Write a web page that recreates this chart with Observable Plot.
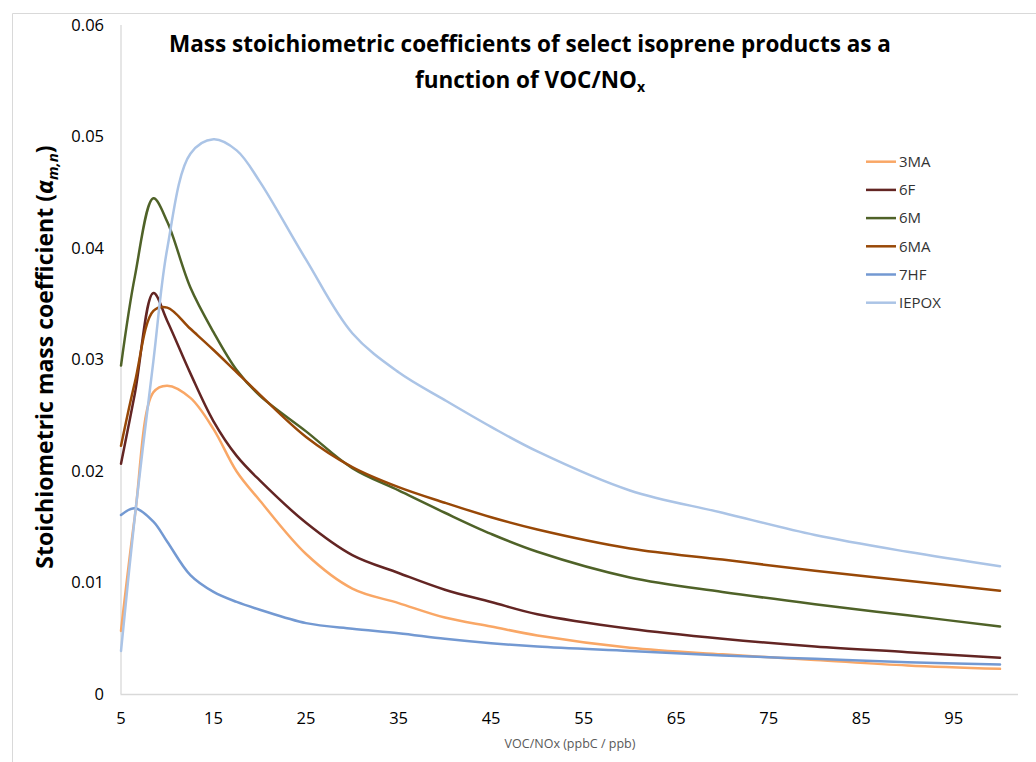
<!DOCTYPE html>
<html><head><meta charset="utf-8">
<script src="https://cdn.jsdelivr.net/npm/d3@7"></script>
<script src="https://cdn.jsdelivr.net/npm/@observablehq/plot@0.6"></script>
<style>
body{margin:0;background:#fff;}
#chart{position:relative;width:1036px;height:762px;}
</style>
</head><body><div id="chart"></div>
<script>
// ---- data ----
const seriesNames = ["3MA", "6F", "6M", "6MA", "7HF", "IEPOX"];
const seriesColors = ["#F9A766", "#632523", "#4F6228", "#984807", "#7399D2", "#ABC4E6"];
const xValues = [5, 6.5, 8.5, 10, 12.5, 15, 17.5, 20, 25, 30, 35, 40, 45, 50, 60, 70, 80, 90, 100];
const v3MA   = [0.0057, 0.0160, 0.0271, 0.0277, 0.0266, 0.0238, 0.0200, 0.0174, 0.0126, 0.0095, 0.0082, 0.0069, 0.0061, 0.0053, 0.0042, 0.0036, 0.0031, 0.0026, 0.0023];
const v6F    = [0.0207, 0.0270, 0.0360, 0.0335, 0.0288, 0.0245, 0.0214, 0.0192, 0.0154, 0.0125, 0.0109, 0.0094, 0.0083, 0.0072, 0.0059, 0.0050, 0.0043, 0.0038, 0.0033];
const v6M    = [0.0295, 0.0375, 0.0445, 0.0424, 0.0365, 0.0325, 0.0291, 0.0268, 0.0236, 0.0203, 0.0183, 0.0163, 0.0144, 0.0128, 0.0105, 0.0092, 0.0081, 0.0071, 0.0061];
const v6MA   = [0.0223, 0.0280, 0.0344, 0.0347, 0.0328, 0.0309, 0.0289, 0.0269, 0.0231, 0.0204, 0.0186, 0.0172, 0.0159, 0.0148, 0.0131, 0.0121, 0.0111, 0.0102, 0.0093];
const v7HF   = [0.0161, 0.0167, 0.0155, 0.0137, 0.0107, 0.0092, 0.0083, 0.0076, 0.0064, 0.0059, 0.0055, 0.0050, 0.0046, 0.0043, 0.0039, 0.0035, 0.0032, 0.0029, 0.0027];
const vIEPOX = [0.0039, 0.0160, 0.0299, 0.0400, 0.0485, 0.0498, 0.0488, 0.0460, 0.0390, 0.0324, 0.0289, 0.0264, 0.0240, 0.0218, 0.0183, 0.0163, 0.0143, 0.0128, 0.0115];
const seriesValues = [v3MA, v6F, v6M, v6MA, v7HF, vIEPOX];
const xTicks = [5, 15, 25, 35, 45, 55, 65, 75, 85, 95];
const yTicks = [0, 0.01, 0.02, 0.03, 0.04, 0.05, 0.06];

const rows = seriesNames.flatMap((name, i) =>
  xValues.map((x, j) => ({series: name, x, y: seriesValues[i][j]})));

const font = "'Open Sans', sans-serif";

const plot = Plot.plot({
  width: 1036,
  height: 762,
  marginLeft: 120.5,
  marginRight: 18,
  marginTop: 25,
  marginBottom: 68,
  style: {fontFamily: font, fontSize: "16.5px", color: "#000", background: "#fff"},
  x: {domain: [5, 102]},
  y: {domain: [0, 0.06]},
  color: {domain: seriesNames, range: seriesColors},
  marks: [
    Plot.ruleY([0], {stroke: "#D9D9D9", strokeWidth: 1.3}),
    Plot.ruleX([5], {stroke: "#D9D9D9", strokeWidth: 1.3}),
    Plot.axisX({ticks: xTicks, tickSize: 0, tickPadding: 18, tickFormat: d => String(d), label: null, fontSize: 16.5}),
    Plot.axisY({ticks: yTicks, tickSize: 0, tickPadding: 17, tickFormat: d => d === 0 ? "0" : d.toFixed(2), label: null, fontSize: 16.5}),
    Plot.lineY(rows, {x: "x", y: "y", z: "series", stroke: "series", curve: "catmull-rom", strokeWidth: 2.5})
  ]
});

document.getElementById("chart").appendChild(plot);
const svg = d3.select(plot);

// chart-area border (top and left edges visible)
svg.append("line").attr("x1", 12.5).attr("x2", 1036).attr("y1", 13.5).attr("y2", 13.5).attr("stroke", "#D9D9D9");
svg.append("line").attr("x1", 12.5).attr("x2", 12.5).attr("y1", 13.5).attr("y2", 762).attr("stroke", "#D9D9D9");

// title
const t = svg.append("text").attr("text-anchor", "middle").attr("font-family", font)
  .attr("font-weight", "bold").attr("font-size", 22.5).attr("fill", "#000");
t.append("tspan").attr("x", 530).attr("y", 52).text("Mass stoichiometric coefficients of select isoprene products as a");
const t2 = t.append("tspan").attr("x", 530).attr("y", 88);
t2.append("tspan").text("function of VOC/NO");
t2.append("tspan").attr("font-size", 14).attr("dy", 4).text("x");

// y axis title
const yl = svg.append("text").attr("transform", "translate(53,357) rotate(-90)")
  .attr("text-anchor", "middle").attr("font-family", font).attr("font-weight", "bold")
  .attr("font-size", 23).attr("fill", "#000");
yl.append("tspan").text("Stoichiometric mass coefficient (");
yl.append("tspan").attr("font-style", "italic").text("α");
yl.append("tspan").attr("font-style", "italic").attr("font-size", 15).attr("dy", 5).text("m,n");
yl.append("tspan").attr("dy", -5).text(")");

// x axis title
svg.append("text").attr("x", 570).attr("y", 748).attr("text-anchor", "middle")
  .attr("font-family", font).attr("font-size", 12.5).attr("fill", "#595959")
  .text("VOC/NOx (ppbC / ppb)");

// legend
seriesNames.forEach((name, i) => {
  const y = 161.7 + i * 28.2;
  svg.append("line").attr("x1", 866).attr("x2", 896).attr("y1", y).attr("y2", y)
    .attr("stroke", seriesColors[i]).attr("stroke-width", 2.5);
  svg.append("text").attr("x", 899).attr("y", y).attr("dy", "0.35em").attr("text-anchor", "start")
    .attr("font-family", font).attr("font-size", 15).attr("fill", "#333").text(name);
});
</script></body></html>
